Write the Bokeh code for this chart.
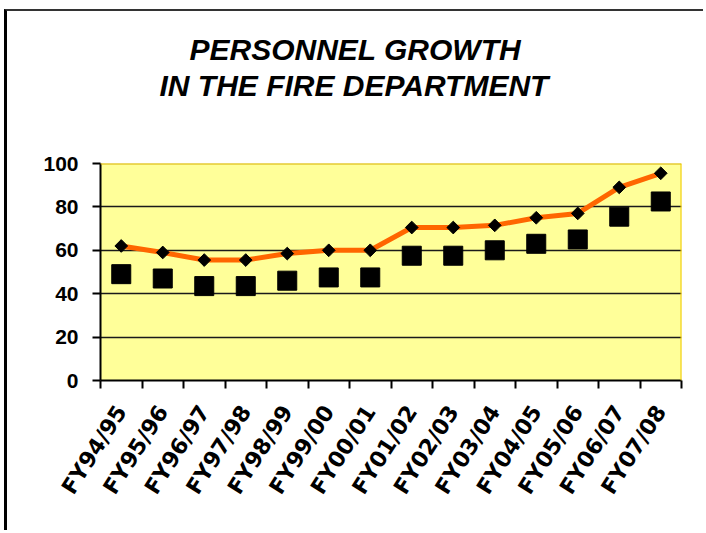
import numpy as np
from bokeh.plotting import figure
from bokeh.models import (ColumnDataSource, Range1d, LinearAxis,
                          FixedTicker, Span, Title)
from bokeh.embed import file_html
from bokeh.resources import INLINE

categories = ["FY94/95", "FY95/96", "FY96/97", "FY97/98", "FY98/99", "FY99/00",
              "FY00/01", "FY01/02", "FY02/03", "FY03/04", "FY04/05", "FY05/06",
              "FY06/07", "FY07/08"]
line_values = [62, 59, 55.5, 55.5, 58.5, 60, 60, 70.5, 70.5, 71.5, 75, 77, 89, 95.5]
square_values = [49, 47, 43.5, 43.5, 46, 47.5, 47.5, 57.5, 57.5, 60, 63, 65, 75.5, 82.5]
y_ticks = [0, 20, 40, 60, 80, 100]
grid_ticks = [20, 40, 60, 80]
title_lines = ["PERSONNEL GROWTH", "IN THE FIRE DEPARTMENT"]

n = len(categories)
centers = [i + 0.5 for i in range(n)]
bounds = list(range(n + 1))
src = ColumnDataSource(dict(x=centers, line=line_values, sq=square_values))

W, H = 699, 521
p = figure(width=W, height=H, x_range=Range1d(0, n),
           y_range=Range1d(0, 100), output_backend="svg", toolbar_location=None,
           x_axis_location=None,
           min_border_left=93, min_border_right=25, min_border_top=152,
           min_border_bottom=152,
           background_fill_color="#FFFF99", border_fill_color="white",
           outline_line_color=None,
           styles={"margin-left": "4px", "margin-top": "9px",
                   "border-left": "3px solid black", "border-top": "2px solid #333333"})

xax = LinearAxis(ticker=FixedTicker(ticks=centers, minor_ticks=bounds),
                 major_label_overrides={c: lab for c, lab in zip(centers, categories)},
                 axis_line_color="black", axis_line_width=2,
                 major_tick_line_color=None, major_tick_out=8, major_tick_in=0,
                 minor_tick_line_color="black", minor_tick_line_width=2,
                 minor_tick_out=8, minor_tick_in=0,
                 major_label_orientation=1.0,
                 major_label_standoff=19,
                 major_label_text_font="DejaVu Sans",
                 major_label_text_font_style="bold",
                 major_label_text_font_size="22px",
                 major_label_text_color="black")
p.add_layout(xax, "below")

yax = p.yaxis[0]
yax.ticker = FixedTicker(ticks=y_ticks)
yax.minor_tick_line_color = None
yax.major_tick_out = 8
yax.major_tick_in = 0
yax.major_tick_line_width = 2
yax.axis_line_width = 2
yax.major_label_standoff = 14
yax.major_label_text_font = "Liberation Sans"
yax.major_label_text_font_style = "bold"
yax.major_label_text_font_size = "21px"
yax.major_label_text_color = "black"

p.xgrid.visible = False
p.ygrid.ticker = FixedTicker(ticks=grid_ticks)
p.ygrid.grid_line_color = "#1a1a1a"
p.ygrid.grid_line_width = 1.5

p.add_layout(Span(location=100, dimension="width", line_color="#D8B000", line_width=2))
p.add_layout(Span(location=n, dimension="height", line_color="#F0C800", line_width=2))

p.line(x="x", y="line", source=src, line_color="#FF6600", line_width=5)
p.scatter(x="x", y="line", source=src, marker="square", angle=np.pi / 4,
          size=9, color="black")
p.scatter(x="x", y="sq", source=src, marker="square", size=19, color="black")

p.title.visible = False
# spacer between the frame and the two title lines
p.add_layout(Title(text=" ", standoff=48, text_font_size="10px"), "above")
for txt, off, stand in [(title_lines[1], 59, 2), (title_lines[0], 89, 0)]:
    p.add_layout(Title(text=txt, align="left", offset=off, standoff=stand,
                       text_font="Liberation Sans", text_font_style="bold italic",
                       text_font_size="30px", text_color="black"), "above")

open("out.html", "w").write(file_html(p, INLINE))
